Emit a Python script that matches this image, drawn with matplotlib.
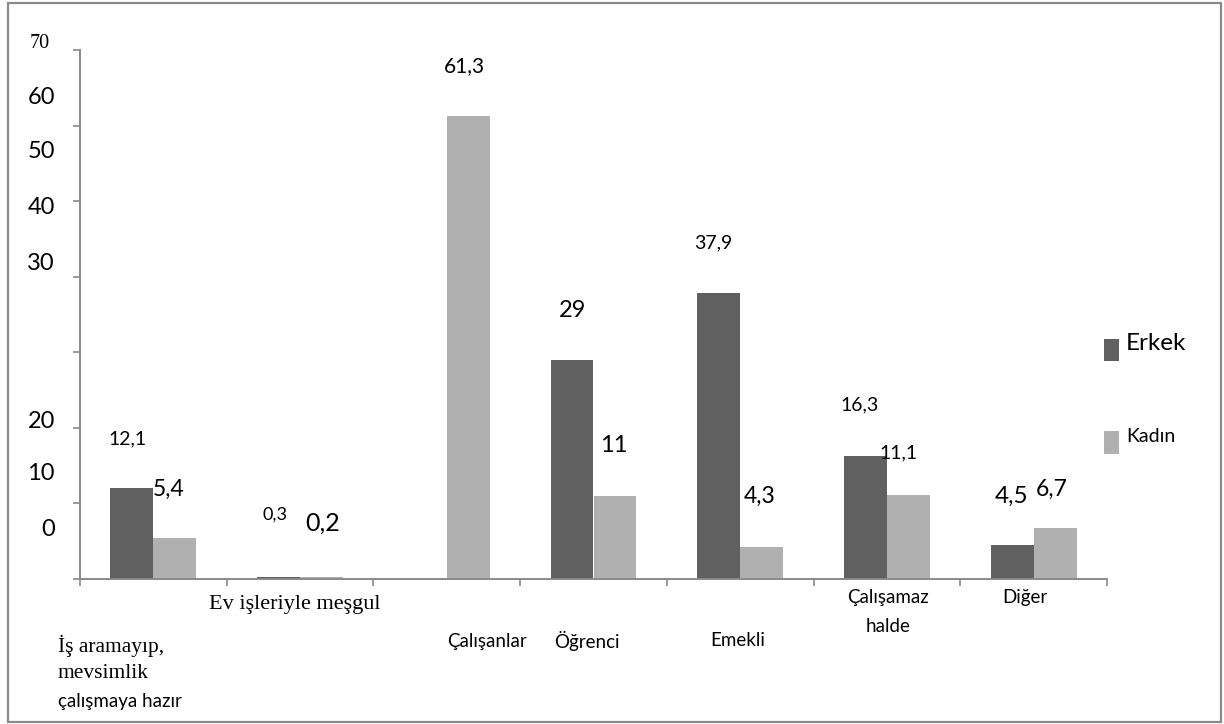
import matplotlib
matplotlib.use("Agg")
import matplotlib.pyplot as plt
from matplotlib.patches import Rectangle

# ---- data -------------------------------------------------------------
categories = ["İş aramayıp, mevsimlik çalışmaya hazır", "Ev işleriyle meşgul",
              "Çalışanlar", "Öğrenci", "Emekli", "Çalışamaz halde", "Diğer"]
erkek = [12.1, 0.3, None, 29, 37.9, 16.3, 4.5]
kadin = [5.4, 0.2, 61.3, 11, 4.3, 11.1, 6.7]
series_names = ["Erkek", "Kadın"]
y_ticks = [0, 10, 20, 30, 40, 50, 60, 70]

# ---- styling ----------------------------------------------------------
W, H = 1224, 724
DARK = "#606060"
LIGHT = "#b0b0b0"
AXIS = "#8a8a8a"
SANS = ["Lato", "DejaVu Sans"]
SERIF = ["Liberation Serif", "DejaVu Serif"]

fig = plt.figure(figsize=(W / 100, H / 100), dpi=100)
fig.patch.set_facecolor("white")

# outer frame
fig.add_artist(Rectangle((8 / W, 2 / H), 1213 / W, 719 / H, transform=fig.transFigure,
                         fill=False, edgecolor=AXIS, linewidth=1.6))

left, right, bottom, top = 80, 1107, 579, 50
ax = fig.add_axes([left / W, 1 - bottom / H, (right - left) / W, (bottom - top) / H])

n = len(categories)
xs = list(range(n))
bw = 0.293

er_x = [x - bw / 2 for x, v in zip(xs, erkek) if v is not None]
er_v = [v for v in erkek if v is not None]
ax.bar(er_x, er_v, width=bw, color=DARK, linewidth=0)
ax.bar([x + bw / 2 for x in xs], kadin, width=bw, color=LIGHT, linewidth=0)

ax.set_xlim(-0.5, n - 0.5)
ax.set_ylim(0, 70)
for s in ("top", "right"):
    ax.spines[s].set_visible(False)
for s in ("left", "bottom"):
    ax.spines[s].set_color(AXIS)
    ax.spines[s].set_linewidth(1.4)
ax.set_yticks(y_ticks)
ax.set_yticklabels([])
ax.set_xticks([x - 0.5 for x in range(n + 1)])
ax.set_xticklabels([])
ax.tick_params(axis="both", direction="out", length=5, width=1.2, color=AXIS)

# ---- value labels (anchor positions in data units) --------------------
value_labels = [
    ("12,1", -0.173, 18.5, 14), ("5,4", 0.107, 11.8, 16.5),
    ("0,3", 0.829, 8.5, 13), ("0,2", 1.156, 7.4, 18),
    ("61,3", 2.117, 67.9, 15), ("29", 2.854, 35.5, 17),
    ("11", 3.140, 17.6, 17), ("37,9", 3.815, 44.5, 14),
    ("4,3", 4.135, 10.9, 16.5), ("16,3", 4.817, 23.0, 14),
    ("11,1", 5.082, 16.7, 14), ("4,5", 5.846, 11.0, 17.5),
    ("6,7", 6.125, 11.9, 16.5),
]
for txt, x, y, fs in value_labels:
    ax.text(x, y, txt, ha="center", va="center", fontsize=fs, family=SANS, color="black")

# ---- y tick labels, placed beside the axis ----------------------------
def fig_text(px, py, s, **kw):
    fig.text(px / W, 1 - py / H, s, **kw)

ytick_pos = {70: 43, 60: 97, 50: 152, 40: 208, 30: 263, 20: 422, 10: 473, 0: 529}
for v in y_ticks:
    if v == 70:
        fig_text(50, ytick_pos[v], str(v), ha="right", va="center", fontsize=14.5, family=SERIF)
    else:
        fig_text(55, ytick_pos[v], str(v), ha="right", va="center", fontsize=17, family=SANS)

# ---- category labels ---------------------------------------------------
fig_text(295, 605, "Ev işleriyle meşgul", ha="center", va="center", fontsize=16, family=SERIF)
fig_text(58, 646, "İş aramayıp,", ha="left", va="center", fontsize=15.5, family=SERIF)
fig_text(58, 673, "mevsimlik", ha="left", va="center", fontsize=15.5, family=SERIF)
fig_text(58, 702, "çalışmaya hazır", ha="left", va="center", fontsize=13.5, family=SANS)
fig_text(487, 641, "Çalışanlar", ha="center", va="center", fontsize=13.5, family=SANS)
fig_text(587, 641, "Öğrenci", ha="center", va="center", fontsize=13.5, family=SANS)
fig_text(738, 641, "Emekli", ha="center", va="center", fontsize=13.5, family=SANS)
fig_text(888, 597, "Çalışamaz", ha="center", va="center", fontsize=13.5, family=SANS)
fig_text(888, 627, "halde", ha="center", va="center", fontsize=13.5, family=SANS)
fig_text(1025, 597, "Diğer", ha="center", va="center", fontsize=13.5, family=SANS)

# ---- legend -------------------------------------------------------------
legend_items = [(series_names[0], DARK, 339, 361, 343, 17.5),
                (series_names[1], LIGHT, 431, 454, 436, 14)]
for name, col, y0, y1, ty, fs in legend_items:
    fig.add_artist(Rectangle((1104 / W, 1 - y1 / H), 15 / W, (y1 - y0) / H,
                             transform=fig.transFigure, facecolor=col, edgecolor="none"))
    fig_text(1126, ty, name, ha="left", va="center", fontsize=fs, family=SANS)

fig.savefig("out.png", dpi=100, facecolor="white")
